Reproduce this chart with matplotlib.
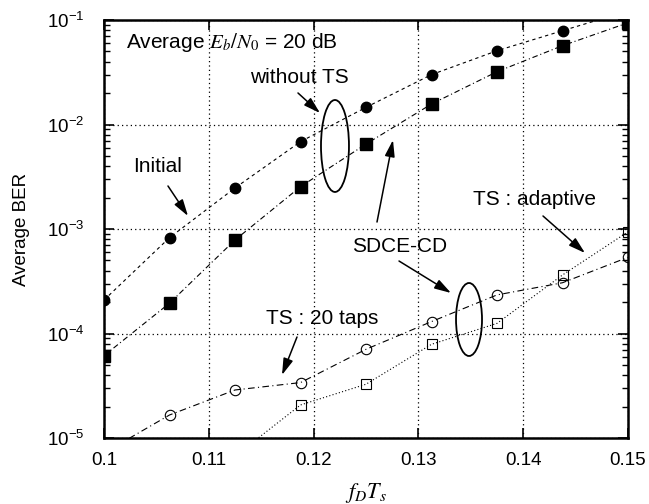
import matplotlib
matplotlib.use("Agg")
import matplotlib.pyplot as plt
from matplotlib.patches import Ellipse
from matplotlib.ticker import LogLocator, FixedLocator, FuncFormatter, NullFormatter

plt.rcParams['font.family'] = ['Liberation Sans', 'DejaVu Sans']
plt.rcParams['mathtext.fontset'] = 'stix'
plt.rcParams['axes.unicode_minus'] = False

fdts = [0.1, 0.10625, 0.1125, 0.11875, 0.125, 0.13125, 0.1375, 0.14375, 0.15]
initial = [2.09e-4, 8.26e-4, 2.47e-3, 6.85e-3, 1.46e-2, 3.0e-2, 5.08e-2, 7.9e-2, 1.22e-1]
sdce_without_ts = [6.13e-5, 1.95e-4, 7.85e-4, 2.54e-3, 6.5e-3, 1.57e-2, 3.2e-2, 5.68e-2, 9.4e-2]
ts_20taps = [7.2e-6, 1.66e-5, 2.88e-5, 3.39e-5, 7.06e-5, 1.30e-4, 2.34e-4, 3.06e-4, 5.36e-4]
ts_adaptive_x = [0.1125, 0.11875, 0.125, 0.13125, 0.1375, 0.14375, 0.15]
ts_adaptive = [6.7e-6, 2.07e-5, 3.27e-5, 7.88e-5, 1.25e-4, 3.63e-4, 9.4e-4]

xticks = [0.1, 0.11, 0.12, 0.13, 0.14, 0.15]

fig = plt.figure(figsize=(6.49, 5.04), dpi=100)
ax = fig.add_axes([104/649, 66/504, 524/649, 418/504])

ax.plot(fdts, initial, color='black', linestyle=(0, (3, 3)), linewidth=0.8,
        marker='o', markersize=7.5, markerfacecolor='black', markeredgecolor='black')
ax.plot(fdts, sdce_without_ts, color='black', linestyle=(0, (5, 2.5, 1, 2.5)), linewidth=0.8,
        marker='s', markersize=8, markerfacecolor='black', markeredgecolor='black')
ax.plot(fdts, ts_20taps, color='black', linestyle=(0, (6, 3, 1, 3)), linewidth=0.8,
        marker='o', markersize=7.5, markerfacecolor='none', markeredgecolor='black', markeredgewidth=0.8)
ax.plot(ts_adaptive_x, ts_adaptive, color='black', linestyle=(0, (1, 2)), linewidth=0.8,
        marker='s', markersize=7.5, markerfacecolor='none', markeredgecolor='black', markeredgewidth=0.8)

ax.set_yscale('log')
ax.set_xlim(0.1, 0.15)
ax.set_ylim(1e-5, 1e-1)
ax.xaxis.set_major_locator(FixedLocator(xticks))
ax.xaxis.set_major_formatter(FuncFormatter(lambda v, p: '%g' % round(v, 3)))
ax.yaxis.set_major_locator(LogLocator(base=10, numticks=10))
ax.yaxis.set_minor_locator(LogLocator(base=10, subs=range(2, 10), numticks=10))
ax.yaxis.set_minor_formatter(NullFormatter())

ax.grid(True, which='major', color='black', linestyle=(0, (1, 2.5)), linewidth=0.9)
ax.tick_params(which='major', direction='in', length=7, width=1.2, top=True, right=True,
               labelsize=13.5)
ax.tick_params(axis='x', which='major', pad=10)
ax.tick_params(axis='y', which='major', pad=14)
ax.tick_params(which='minor', direction='in', length=4, width=1.0, top=True, right=True)
for s in ax.spines.values():
    s.set_linewidth(1.8)

ax.set_xlabel(r'$f_DT_s$', fontsize=16, labelpad=9)
ax.set_ylabel('Average BER', fontsize=13.5, labelpad=12)

tk = dict(transform=ax.transAxes, fontsize=15, va='center', ha='left')
ax.text(0.042, 0.945, r'Average $E_b/N_0$ = 20 dB', **tk)
ax.text(0.2786, 0.8636, 'without TS', **tk)
ax.text(0.0553, 0.6507, 'Initial', **tk)
ax.text(0.4733, 0.457, 'SDCE-CD', **tk)
ax.text(0.7042, 0.5694, 'TS : adaptive', **tk)
ax.text(0.309, 0.287, 'TS : 20 taps', **tk)

ap = dict(arrowstyle='-|>,head_length=1.0,head_width=0.3', color='black', lw=1.1, shrinkA=0, shrinkB=0)
arrows = [((0.3702, 0.8254), (0.4122, 0.7775)),
          ((0.1221, 0.6029), (0.1603, 0.5311)),
          ((0.521, 0.5167), (0.5515, 0.7129)),
          ((0.563, 0.4234), (0.6622, 0.3469)),
          ((0.8378, 0.5311), (0.9179, 0.4426)),
          ((0.3683, 0.2416), (0.3397, 0.1507))]
for tail, head in arrows:
    ax.annotate('', xy=head, xytext=tail, xycoords='axes fraction', textcoords='axes fraction',
                arrowprops=ap)

ax.add_patch(Ellipse((0.4408, 0.6986), 0.0534, 0.220, transform=ax.transAxes,
                     fill=False, edgecolor='black', linewidth=1.3))
ax.add_patch(Ellipse((0.6966, 0.2835), 0.0496, 0.1746, transform=ax.transAxes,
                     fill=False, edgecolor='black', linewidth=1.3))

fig.savefig('out.png', dpi=100)
